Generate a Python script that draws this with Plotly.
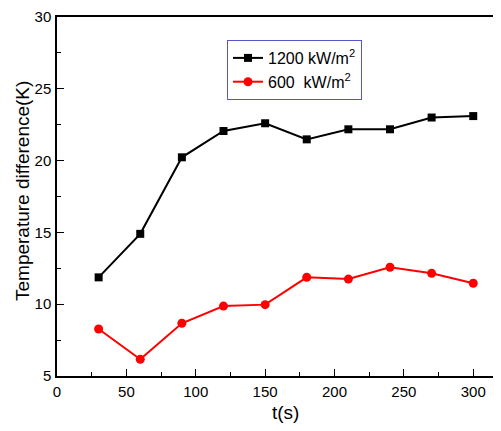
import plotly.graph_objects as go

t = [30, 60, 90, 120, 150, 180, 210, 240, 270, 300]
high_flux = [11.87, 14.9, 20.23, 22.06, 22.6, 21.48, 22.18, 22.18, 23.0, 23.1]
low_flux = [8.27, 6.16, 8.67, 9.87, 9.97, 11.87, 11.75, 12.57, 12.15, 11.46]
name_high = "1200 kW/m<sup>2</sup>"
name_low = "600  kW/m<sup>2</sup>"
x_ticks = [0, 50, 100, 150, 200, 250, 300]
y_ticks = [5, 10, 15, 20, 25, 30]

font_family = "Liberation Sans, Arial, sans-serif"

OFF = 8  # page body margin
W, H = 501 - OFF, 431 - OFF
L, T = 57 - OFF, 17 - OFF
BOT = 376 - OFF
B = H - BOT
PW, PH = W - L, BOT - T


def px(xp):
    return (xp - OFF - L) / PW


def py(yp):
    return 1 - (yp - OFF - T) / PH


fig = go.Figure()
fig.add_trace(go.Scatter(
    x=t, y=high_flux, name=name_high, mode="lines+markers",
    line=dict(color="black", width=2),
    marker=dict(symbol="square", size=8, color="black"),
))
fig.add_trace(go.Scatter(
    x=t, y=low_flux, name=name_low, mode="lines+markers",
    line=dict(color="#ff0000", width=2),
    marker=dict(symbol="circle", size=9, color="#ff0000"),
))

fig.update_layout(
    width=W, height=H,
    margin=dict(l=L, r=0, t=T, b=B, autoexpand=False),
    plot_bgcolor="white", paper_bgcolor="white",
    font=dict(family=font_family, size=15, color="black"),
    legend=dict(
        x=px(227), y=py(40), xanchor="left", yanchor="top",
        bordercolor="#5555cc", borderwidth=1, bgcolor="white",
        font=dict(size=16, family=font_family),
        tracegroupgap=0,
    ),
    annotations=[
        dict(text="t(s)", xref="paper", yref="paper",
             x=px(285), y=py(412),
             xanchor="center", yanchor="middle",
             showarrow=False, font=dict(size=19, family=font_family)),
        dict(text="Temperature difference(K)", xref="paper", yref="paper",
             x=px(22), y=py(191), textangle=-90,
             xanchor="center", yanchor="middle",
             showarrow=False, font=dict(size=19, family=font_family)),
    ],
)

fig.update_xaxes(
    range=[0, 320], tickvals=x_ticks, showgrid=False, zeroline=False,
    showline=True, linecolor="black", linewidth=1.5, mirror=True,
    ticks="inside", ticklen=7, tickwidth=1.2, tickcolor="black",
    minor=dict(ticks="inside", ticklen=4, dtick=25, tick0=0, tickcolor="black", tickwidth=1.2),
    tickfont=dict(size=15), ticklabelstandoff=1, automargin=False,
)
fig.update_yaxes(
    range=[5, 30], tickvals=y_ticks, showgrid=False, zeroline=False,
    showline=True, linecolor="black", linewidth=1.5, mirror=False,
    ticks="inside", ticklen=7, tickwidth=1.2, tickcolor="black",
    minor=dict(ticks="inside", ticklen=4, dtick=2.5, tick0=0, tickcolor="black", tickwidth=1.2),
    tickfont=dict(size=15), ticklabelstandoff=1, automargin=False,
)

fig.write_html("out.html")
